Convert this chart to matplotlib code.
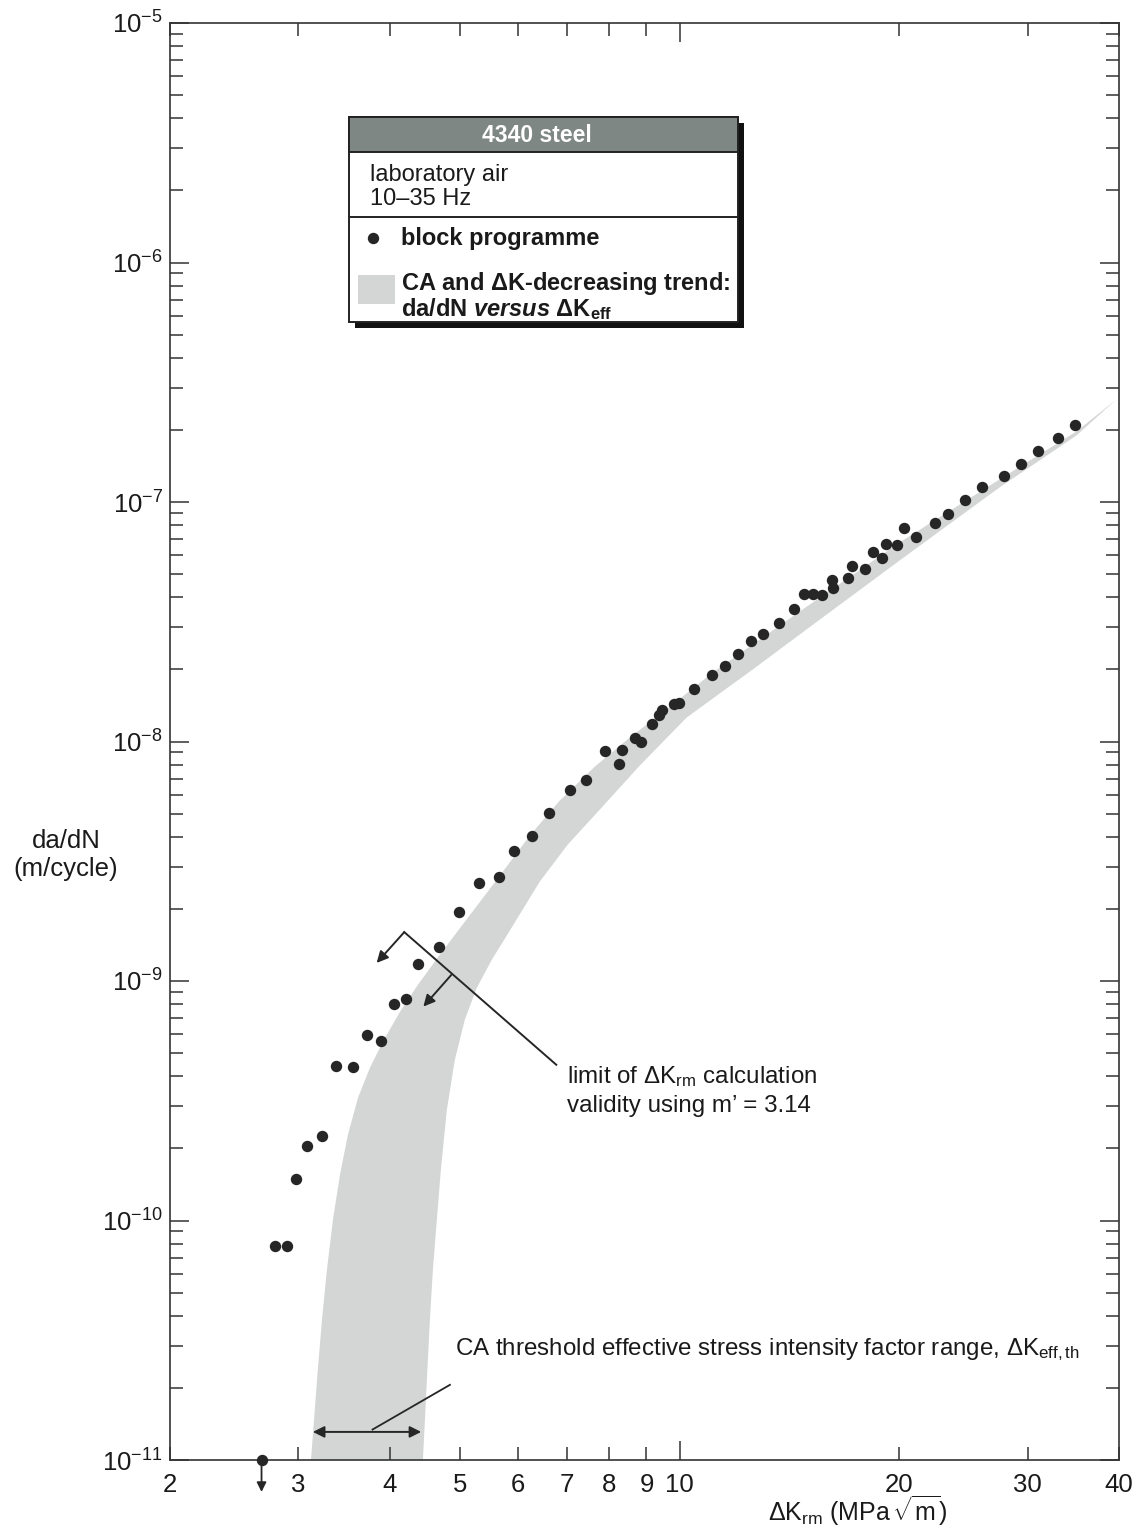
import numpy as np
import matplotlib
matplotlib.use('Agg')
import matplotlib.pyplot as plt
from matplotlib.patches import Rectangle
from matplotlib.lines import Line2D
from matplotlib.ticker import FixedLocator, FixedFormatter, NullFormatter

plt.rcParams['font.family'] = ['Liberation Sans', 'DejaVu Sans']
plt.rcParams['mathtext.fontset'] = 'custom'
plt.rcParams['mathtext.rm'] = 'Liberation Sans'
plt.rcParams['mathtext.it'] = 'Liberation Sans:italic'
plt.rcParams['mathtext.bf'] = 'Liberation Sans:bold'
plt.rcParams['mathtext.bfit'] = 'Liberation Sans:italic:bold'

# block programme results, dK_rm (MPa sqrt(m)) vs da/dN (m/cycle)
dk_block = [2.79, 2.89, 2.98, 3.08, 3.23, 3.38, 3.56, 3.73, 3.89, 4.05,
            4.21, 4.37, 4.67, 4.98, 5.30, 5.65, 5.92, 6.27, 6.61, 7.06,
            7.43, 7.89, 8.25, 8.33, 8.67, 8.84, 9.15, 9.36, 9.46, 9.82,
            9.97, 10.45, 11.08, 11.54, 12.02, 12.51, 13.02, 13.66, 14.33, 14.81,
            15.24, 15.64, 16.18, 16.21, 16.99, 17.24, 17.95, 18.38, 18.92, 19.18,
            19.85, 20.30, 21.05, 22.36, 23.32, 24.61, 25.96, 27.86, 29.39, 30.94,
            33.00, 34.85]
dadn_block = [7.86e-11, 7.86e-11, 1.49e-10, 2.05e-10, 2.26e-10, 4.42e-10, 4.39e-10, 5.96e-10, 5.64e-10, 8.03e-10,
              8.45e-10, 1.18e-9, 1.39e-9, 1.95e-9, 2.57e-9, 2.72e-9, 3.50e-9, 4.05e-9, 5.04e-9, 6.27e-9,
              6.91e-9, 9.15e-9, 8.05e-9, 9.24e-9, 1.03e-8, 9.91e-9, 1.18e-8, 1.29e-8, 1.36e-8, 1.44e-8,
              1.45e-8, 1.66e-8, 1.90e-8, 2.07e-8, 2.33e-8, 2.63e-8, 2.81e-8, 3.11e-8, 3.58e-8, 4.13e-8,
              4.14e-8, 4.09e-8, 4.74e-8, 4.39e-8, 4.83e-8, 5.39e-8, 5.26e-8, 6.16e-8, 5.84e-8, 6.68e-8,
              6.64e-8, 7.82e-8, 7.17e-8, 8.20e-8, 8.88e-8, 1.02e-7, 1.15e-7, 1.29e-7, 1.44e-7, 1.63e-7,
              1.85e-7, 2.09e-7]
# one run below the plotted range
dk_below = 2.67
dadn_below = 1e-11

# CA and dK-decreasing trend band (da/dN vs dK_eff)
band_upper_k = [3.121, 3.151, 3.181, 3.231, 3.282, 3.345, 3.420, 3.507, 3.620, 3.759,
                3.929, 4.133, 4.374, 4.687, 5.072, 5.664, 6.225, 6.842, 7.644, 8.534,
                9.774, 11.09, 14.59, 20.0, 27.42, 34.96, 39.66]
band_upper_v = [1.0e-11, 1.469e-11, 2.159e-11, 3.845e-11, 6.218e-11, 1.006e-10, 1.550e-10, 2.279e-10, 3.252e-10, 4.340e-10,
                5.681e-10, 7.433e-10, 9.641e-10, 1.287e-9, 1.767e-9, 2.750e-9, 4.041e-9, 5.658e-9, 7.849e-9, 1.037e-8,
                1.425e-8, 1.939e-8, 3.485e-8, 6.767e-8, 1.241e-7, 1.969e-7, 2.678e-7]
band_lower_k = [4.444, 4.472, 4.500, 4.543, 4.586, 4.644, 4.703, 4.793, 4.915, 5.072,
                5.268, 5.523, 5.845, 6.425, 7.017, 7.765, 8.808, 10.215, 11.33, 12.58,
                14.59, 20.0, 27.42, 34.96, 39.66]
band_lower_v = [1.0e-11, 1.469e-11, 2.159e-11, 3.845e-11, 6.218e-11, 1.006e-10, 1.627e-10, 2.897e-10, 4.686e-10, 6.885e-10,
                9.368e-10, 1.226e-9, 1.621e-9, 2.597e-9, 3.706e-9, 5.190e-9, 7.925e-9, 1.258e-8, 1.584e-8, 1.995e-8,
                2.793e-8, 5.691e-8, 1.149e-7, 1.894e-7, 2.678e-7]

x_tick_vals = [2, 3, 4, 5, 6, 7, 8, 9, 20, 30, 40]
x_tick_labels = ['2', '3', '4', '5', '6', '7', '8', '9', '20', '30', '40']
y_decades = [1e-11, 1e-10, 1e-9, 1e-8, 1e-7, 1e-6, 1e-5]
y_labels = [r'$\mathregular{10^{-%d}}$' % e for e in range(11, 4, -1)]

W, H = 1147, 1532
DARK = '#262626'
TXT = '#1a1a1a'
BAND = '#d4d6d5'
HEAD = '#7e8784'
FS_TICK = 18.5
FS_NOTE = 17.4
FS_LEG = 17

fig = plt.figure(figsize=(W / 100, H / 100), dpi=100)
ax = fig.add_axes([170 / W, 1 - 1460 / H, (1119 - 170) / W, (1460 - 23) / H])
ax.set_xscale('log')
ax.set_yscale('log')
ax.set_xlim(2, 40)
ax.set_ylim(1e-11, 1e-5)

# trend band
poly_k = band_upper_k + band_lower_k[::-1]
poly_v = band_upper_v + band_lower_v[::-1]
ax.fill(poly_k, poly_v, color=BAND, lw=0, zorder=1)

# data
ax.plot(dk_block, dadn_block, 'o', color=DARK, ms=8.2, mec='none', zorder=3)
ax.plot([dk_below], [dadn_below], 'o', color=DARK, ms=8.2, mec='none', zorder=4, clip_on=False)
ax.annotate('', xy=(dk_below, dadn_below), xytext=(0, -23), textcoords='offset points',
            arrowprops=dict(arrowstyle='<|-', color=DARK, lw=1.3, mutation_scale=14, shrinkA=0, shrinkB=0),
            annotation_clip=False)

# axes / ticks
for s in ax.spines.values():
    s.set_color('#333333')
    s.set_linewidth(1.2)
ax.xaxis.set_major_locator(FixedLocator([10]))
ax.xaxis.set_major_formatter(FixedFormatter(['10']))
ax.xaxis.set_minor_locator(FixedLocator(x_tick_vals))
ax.xaxis.set_minor_formatter(FixedFormatter(x_tick_labels))
ax.yaxis.set_major_locator(FixedLocator(y_decades))
ax.yaxis.set_major_formatter(FixedFormatter(y_labels))
ax.yaxis.set_minor_locator(FixedLocator([m * 10.0 ** e for e in range(-11, -5) for m in range(2, 10)]))
ax.yaxis.set_minor_formatter(NullFormatter())
ax.tick_params(axis='both', which='both', direction='in', top=True, right=True,
               color='#333333', width=1.1, labelsize=FS_TICK, labelcolor=TXT)
ax.tick_params(axis='x', which='major', length=13.5, pad=9)
ax.tick_params(axis='x', which='minor', length=9.5, pad=9)
ax.tick_params(axis='y', which='major', length=13.5, pad=5)
ax.tick_params(axis='y', which='minor', length=9.3)

fig.text(857 / W, 1 - 1511 / H, r'$\Delta$K$_{\mathregular{rm}}$ (MPa$\,\sqrt{\mathregular{m}}$)',
         fontsize=18, color=TXT, ha='center', va='center')
fig.text(66 / W, 1 - 855 / H, 'da/dN\n(m/cycle)', ha='center', va='center', fontsize=18.5,
         color=TXT, linespacing=1.25)

# validity limit annotation
arr = dict(arrowstyle='-|>', color=DARK, lw=1.4, mutation_scale=17, shrinkA=0, shrinkB=0)
ax.plot([6.77, 4.19], [4.47e-10, 1.60e-9], color=DARK, lw=1.4, zorder=5)
ax.annotate('', xy=(3.84, 1.19e-9), xytext=(4.19, 1.60e-9), arrowprops=arr, zorder=5)
ax.annotate('', xy=(4.45, 7.82e-10), xytext=(4.86, 1.06e-9), arrowprops=arr, zorder=5)
ax.text(7.0, 3.98e-10, r'limit of $\Delta$K$_{\mathregular{rm}}$ calculation', fontsize=FS_NOTE,
        color=TXT, va='center', ha='left')
ax.text(7.0, 3.98e-10 / 10 ** (29 / 239.4), 'validity using m\u2019 = 3.14', fontsize=FS_NOTE,
        color=TXT, va='center', ha='left')

# threshold annotation
ax.annotate('', xy=(3.14, 1.31e-11), xytext=(4.42, 1.31e-11),
            arrowprops=dict(arrowstyle='<|-|>', color=DARK, lw=1.4, mutation_scale=17, shrinkA=0, shrinkB=0))
ax.plot([3.79, 4.84], [1.34e-11, 2.06e-11], color=DARK, lw=1.3, zorder=5)
ax.text(4.91, 2.88e-11, r'CA threshold effective stress intensity factor range, $\Delta$K$_{\mathregular{eff,th}}$',
        fontsize=FS_NOTE, color=TXT, va='center', ha='left')


# legend box drawn in figure pixels
def fx(px):
    return px / W


def fy(py):
    return 1 - py / H


L, R, T, B = 349, 738, 117, 322
fig.patches.append(Rectangle((fx(L + 6), fy(B + 6)), fx(R - L), (B - T) / H, transform=fig.transFigure,
                             facecolor='#111111', edgecolor='none', zorder=5))
fig.patches.append(Rectangle((fx(L), fy(B)), fx(R - L), (B - T) / H, transform=fig.transFigure,
                             facecolor='white', edgecolor='#222222', lw=1.4, zorder=6))
fig.patches.append(Rectangle((fx(L), fy(152)), fx(R - L), (152 - T) / H, transform=fig.transFigure,
                             facecolor=HEAD, edgecolor='#222222', lw=1.4, zorder=7))
fig.lines.append(Line2D([fx(L), fx(R)], [fy(217), fy(217)], transform=fig.transFigure,
                        color='#222222', lw=1.4, zorder=7))
fig.text(fx(537), fy(135), '4340 steel', color='white', fontsize=16.5, fontweight='bold',
         ha='center', va='center', zorder=8)
fig.text(fx(370), fy(187), 'laboratory air\n10\u201335 Hz', fontsize=FS_LEG, color=TXT,
         va='center', linespacing=1.1, zorder=8)
fig.lines.append(Line2D([fx(373)], [fy(238)], transform=fig.transFigure, marker='o', ms=8.2,
                        color=DARK, mec='none', zorder=8))
fig.text(fx(401), fy(238), 'block programme', fontsize=FS_LEG, fontweight='bold', color=TXT,
         va='center', zorder=8)
fig.patches.append(Rectangle((fx(358), fy(304)), fx(37), 29 / H, transform=fig.transFigure,
                             facecolor=BAND, edgecolor='none', zorder=8))
fig.text(fx(401), fy(296),
         'CA and $\\mathbf{\\Delta}$K-decreasing trend:\nda/dN $\\mathbfit{versus}$ $\\mathbf{\\Delta K_{eff}}$',
         fontsize=FS_LEG, fontweight='bold', color=TXT, va='center', linespacing=0.95, zorder=8)

fig.savefig('out.png', dpi=100)
